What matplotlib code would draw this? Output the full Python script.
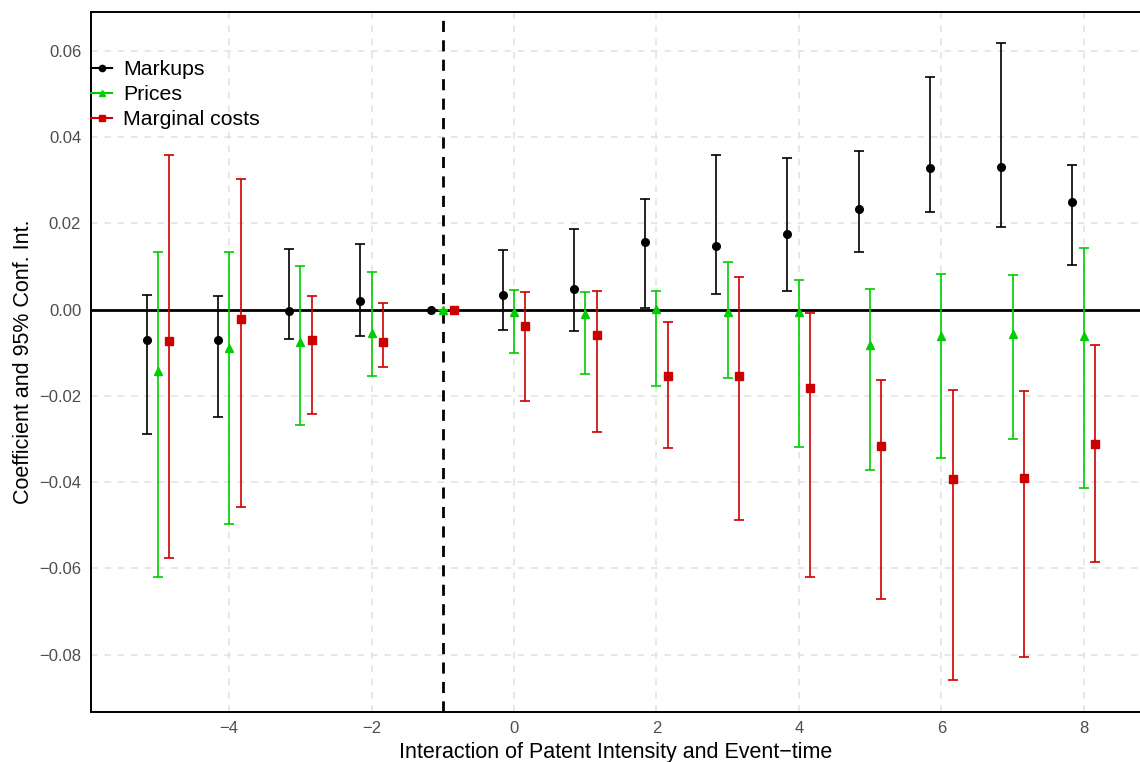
import numpy as np
import matplotlib
matplotlib.use("Agg")
import matplotlib.pyplot as plt

plt.rcParams['font.family'] = ['Liberation Sans', 'DejaVu Sans']

event_time = [-5, -4, -3, -2, -1, 0, 1, 2, 3, 4, 5, 6, 7, 8]

markups = [-0.0070, -0.0070, -0.0004, 0.0020, 0.0, 0.0033, 0.0048, 0.0157, 0.0147, 0.0175, 0.0233, 0.0329, 0.0331, 0.0250]
markups_lo = [-0.0288, -0.0249, -0.0069, -0.0061, 0.0, -0.0048, -0.0050, 0.0003, 0.0036, 0.0042, 0.0134, 0.0227, 0.0191, 0.0102]
markups_hi = [0.0034, 0.0032, 0.0141, 0.0151, 0.0, 0.0139, 0.0187, 0.0255, 0.0358, 0.0351, 0.0368, 0.0539, 0.0618, 0.0335]

prices = [-0.0142, -0.0090, -0.0075, -0.0054, 0.0, -0.0005, -0.0010, 0.0001, -0.0006, -0.0006, -0.0083, -0.0061, -0.0057, -0.0061]
prices_lo = [-0.0620, -0.0497, -0.0267, -0.0153, 0.0, -0.0101, -0.0150, -0.0177, -0.0158, -0.0319, -0.0372, -0.0343, -0.0299, -0.0414]
prices_hi = [0.0133, 0.0133, 0.0101, 0.0088, 0.0, 0.0046, 0.0041, 0.0042, 0.0111, 0.0068, 0.0047, 0.0083, 0.0080, 0.0143]

mcost = [-0.0073, -0.0022, -0.0071, -0.0076, 0.0, -0.0039, -0.0059, -0.0154, -0.0154, -0.0182, -0.0316, -0.0392, -0.0390, -0.0312]
mcost_lo = [-0.0576, -0.0457, -0.0242, -0.0134, 0.0, -0.0211, -0.0283, -0.0321, -0.0488, -0.0619, -0.0671, -0.0859, -0.0805, -0.0584]
mcost_hi = [0.0358, 0.0303, 0.0032, 0.0015, 0.0, 0.0040, 0.0044, -0.0029, 0.0075, -0.0008, -0.0163, -0.0186, -0.0188, -0.0083]

series = [
    ("Markups", markups, markups_lo, markups_hi, -0.16, "black", "o", 5.5),
    ("Prices", prices, prices_lo, prices_hi, 0.0, "#00CD00", "^", 6),
    ("Marginal costs", mcost, mcost_lo, mcost_hi, 0.16, "#CD0000", "s", 5.5),
]

fig = plt.figure(figsize=(11.4, 7.62), dpi=100)
ax = fig.add_axes([0.0798, 0.066, 0.9202, 0.9186])

x = np.array(event_time, dtype=float)
for name, est, lo, hi, off, col, mk, ms in series:
    est = np.array(est)
    err = np.vstack([est - np.array(lo), np.array(hi) - est])
    ax.errorbar(x + off, est, yerr=err, fmt=mk, color=col, ecolor=col,
                markersize=ms, elinewidth=1.2, capsize=3.3, capthick=1.2,
                zorder=3)
    ax.plot([], [], marker=mk, color=col, markersize=ms - 1, lw=1.5, label=name)

ax.axhline(0, color="black", lw=2, zorder=2)
ax.axvline(-1, color="black", lw=2, ls=(0, (4, 3)), zorder=2)

ax.set_xlim(-5.94, 8.79)
ax.set_ylim(-0.0932, 0.0690)
ax.set_xticks([-4, -2, 0, 2, 4, 6, 8])
ax.set_yticks([-0.08, -0.06, -0.04, -0.02, 0.0, 0.02, 0.04, 0.06])
ax.yaxis.set_major_formatter(matplotlib.ticker.FuncFormatter(lambda v, p: f"{v:.2f}".replace("-", "\u2212")))
ax.xaxis.set_major_formatter(matplotlib.ticker.FuncFormatter(lambda v, p: f"{v:.0f}".replace("-", "\u2212")))
ax.tick_params(length=0, labelsize=12, labelcolor="#4D4D4D", pad=7)
ax.grid(True, color="#E3E3E3", ls=(0, (4, 4)), lw=1.2, zorder=0)
ax.set_axisbelow(True)

for s in ["left", "bottom", "top"]:
    ax.spines[s].set_linewidth(1.4)
    ax.spines[s].set_color("black")
ax.spines["right"].set_visible(False)

ax.set_xlabel("Interaction of Patent Intensity and Event\u2212time", fontsize=15.5, labelpad=4)
ax.set_ylabel("Coefficient and 95% Conf. Int.", fontsize=15.5, labelpad=4)

ax.legend(loc="upper left", frameon=False, fontsize=15.3, handlelength=1.0,
          handletextpad=0.5, labelspacing=0.29, borderaxespad=0.0, borderpad=0.0,
          bbox_to_anchor=(0.0, 0.931))

fig.savefig("out.png", dpi=100)
